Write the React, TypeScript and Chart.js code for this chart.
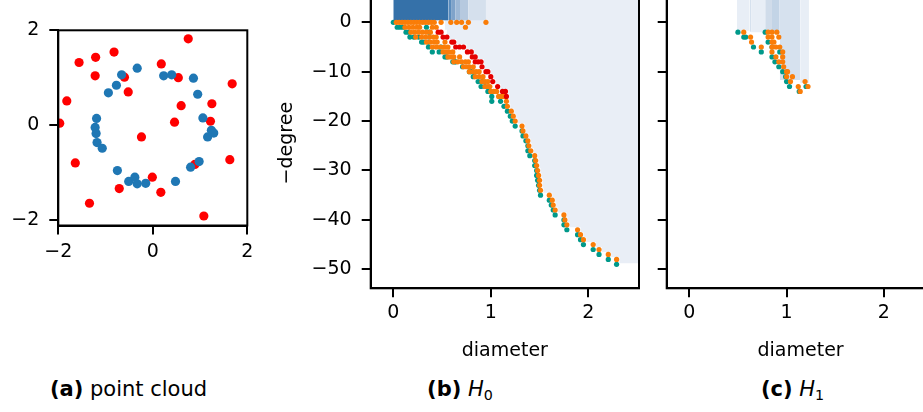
import React, { useEffect, useRef } from 'react';
import { Chart, registerables } from 'chart.js';

Chart.register(...registerables);

// ---------- (a) point cloud ----------
const cloudRed: [number, number][] = [
  [0.75, 1.82], [-0.82, 1.54], [-1.21, 1.43], [-1.56, 1.32], [0.18, 1.29], [-1.22, 1.04],
  [-0.6, 1.01], [0.54, 1.0], [1.68, 0.87], [-0.52, 0.7], [-1.82, 0.51], [0.6, 0.41],
  [1.25, 0.45], [1.22, 0.08], [-1.97, 0.04], [0.46, 0.06], [-0.24, -0.25], [1.63, -0.73],
  [-1.64, -0.8], [0.89, -0.83], [-0.01, -1.1], [-0.71, -1.34], [0.17, -1.42], [-1.34, -1.65],
  [1.08, -1.92],
];
const cloudBlue: [number, number][] = [
  [-0.33, 1.2], [-0.66, 1.06], [0.23, 1.04], [0.4, 1.06], [0.86, 0.99], [-0.77, 0.84],
  [-0.94, 0.68], [0.95, 0.65], [1.06, 0.15], [-1.19, 0.14], [-1.22, -0.05], [-1.2, -0.18],
  [1.24, -0.11], [1.29, -0.17], [1.16, -0.25], [-1.18, -0.37], [-1.07, -0.49], [-0.75, -0.96],
  [0.98, -0.77], [0.8, -0.89], [-0.51, -1.19], [-0.38, -1.1], [-0.33, -1.24], [-0.15, -1.23],
  [0.48, -1.19],
];
const cloudTicks = [-2, 0, 2];

// ---------- shared ticks ----------
const degreeTicks = [0, -10, -20, -30, -40, -50];
const diameterTicks = [0, 1, 2];

// ---------- (b) H0 ----------
const h0Teal: [number, number][] = [
  [0, 0], [0.04, -1], [0.07, -1], [0.1, -1], [0.34, -1], [0.13, -2], [0.16, -2], [0.37, -2],
  [0.17, -3], [0.21, -3], [0.26, -3], [0.29, -4], [0.31, -4], [0.36, -4], [0.36, -5], [0.49, -5],
  [0.4, -6], [0.47, -6], [0.53, -7], [0.55, -7], [0.61, -8], [0.63, -8], [0.64, -8], [0.71, -9],
  [0.78, -10], [0.8, -10], [0.82, -11], [0.87, -12], [0.91, -12], [0.9, -13], [0.94, -13],
  [0.97, -14], [1.01, -15], [1.01, -16], [1.1, -16], [1.135, -17], [1.17, -18], [1.2, -19],
  [1.22, -20], [1.25, -21], [1.32, -22], [1.33, -23], [1.36, -24], [1.38, -25], [1.38, -26],
  [1.4, -27], [1.45, -28], [1.45, -29], [1.47, -30], [1.47, -31], [1.48, -32], [1.49, -33],
  [1.5, -34], [1.51, -35], [1.6, -36], [1.62, -37], [1.64, -38], [1.66, -39], [1.75, -40],
  [1.75, -41], [1.78, -42], [1.89, -43], [1.92, -44], [1.95, -45], [2.05, -46], [2.11, -47],
  [2.205, -48], [2.29, -49],
];
const h0Orange: [number, number][] = [
  [0.03, 0], [0.06, 0], [0.09, 0], [0.12, 0], [0.15, 0], [0.18, 0], [0.21, 0], [0.24, 0],
  [0.27, 0], [0.3, 0], [0.33, 0], [0.36, 0], [0.39, 0], [0.42, 0], [0.49, 0], [0.59, 0],
  [0.65, 0], [0.7, 0], [0.77, 0], [0.95, 0],
  [0.12, -1], [0.16, -1], [0.2, -1], [0.24, -1], [0.27, -1], [0.4, -1], [0.44, -1], [0.74, -1],
  [0.18, -2], [0.22, -2], [0.26, -2], [0.3, -2], [0.34, -2], [0.38, -2],
  [0.23, -3], [0.29, -3], [0.33, -3], [0.37, -3], [0.41, -3], [0.44, -3],
  [0.34, -4], [0.38, -4], [0.42, -4], [0.45, -4], [0.53, -4],
  [0.4, -5], [0.44, -5], [0.48, -5], [0.52, -5], [0.56, -5],
  [0.51, -6], [0.54, -6], [0.57, -6], [0.61, -6],
  [0.56, -7], [0.59, -7], [0.62, -7], [0.68, -7],
  [0.62, -8], [0.66, -8], [0.7, -8], [0.74, -8], [0.77, -8],
  [0.72, -9], [0.75, -9], [0.78, -9], [0.82, -9],
  [0.78, -10], [0.82, -10], [0.85, -10], [0.88, -10],
  [0.84, -11], [0.88, -11], [0.92, -11],
  [0.91, -12], [0.94, -12], [0.97, -12],
  [0.94, -13], [0.97, -13], [0.99, -13],
  [1.0, -14], [1.03, -14], [1.06, -14],
  [1.08, -15], [1.1, -15], [1.13, -15],
  [1.16, -16], [1.17, -17], [1.21, -18], [1.23, -19], [1.25, -20], [1.32, -21], [1.33, -22],
  [1.36, -23], [1.38, -24], [1.39, -25], [1.41, -26], [1.45, -27], [1.46, -28], [1.47, -29],
  [1.48, -30], [1.49, -31], [1.5, -32], [1.5, -33], [1.51, -34], [1.6, -35], [1.63, -36],
  [1.64, -37], [1.66, -38], [1.75, -39], [1.76, -40], [1.78, -41], [1.89, -42], [1.92, -43],
  [1.95, -44], [2.05, -45], [2.11, -46], [2.205, -47], [2.29, -48],
];
const h0Red: [number, number][] = [
  [0.46, -2], [0.49, -2], [0.51, -3], [0.55, -3], [0.6, -4], [0.62, -4], [0.64, -5], [0.68, -5],
  [0.72, -5], [0.76, -6], [0.8, -6], [0.81, -7], [0.84, -7], [0.84, -8], [0.87, -8], [0.9, -8],
  [0.91, -9], [0.95, -10], [0.97, -10], [1.0, -11], [1.02, -12], [1.07, -13], [1.12, -14],
  [1.15, -14], [1.16, -15],
];
// light region: for diameter >= x the region reaches down to y
const h0RegionX = [
  0, 0.53, 0.55, 0.58, 0.65, 0.75, 0.83, 0.87, 0.93, 0.94, 1.0, 1.03, 1.05, 1.1, 1.18, 1.19,
  1.19, 1.2, 1.24, 1.26, 1.28, 1.35, 1.36, 1.39, 1.41, 1.42, 1.44, 1.48, 1.49, 1.5, 1.51, 1.52,
  1.53, 1.53, 1.54, 1.63, 1.66, 1.67, 1.69, 1.78, 1.79, 1.81, 1.92, 1.95, 1.98, 2.08, 2.14,
  2.235, 2.32, 2.52,
];
const h0RegionY = [
  0.4, -1.5, -2.5, -3.5, -4.5, -5.5, -6.5, -7.5, -8.5, -9.5, -10.5, -11.5, -12.5, -13.5, -14.5,
  -15.5, -16.5, -17.5, -18.5, -19.5, -20.5, -21.5, -22.5, -23.5, -24.5, -25.5, -26.5, -27.5,
  -28.5, -29.5, -30.5, -31.5, -32.5, -33.5, -34.5, -35.5, -36.5, -37.5, -38.5, -39.5, -40.5,
  -41.5, -42.5, -43.5, -44.5, -45.5, -46.5, -47.5, -48.8, -48.8,
];
const h0BandStart = [0, 0.564, 0.6, 0.64, 0.684, 0.77];
const h0BandEnd = [0.564, 0.6, 0.64, 0.684, 0.77, 0.95];
const h0BandBottom = [0.4, 0.4, 0.4, 0.4, 0.4, 0.4];

// ---------- (c) H1 ----------
const h1Teal: [number, number][] = [
  [0.5, -2], [0.78, -2], [0.56, -3], [0.58, -3], [0.81, -4], [0.66, -5], [0.85, -5], [0.74, -6],
  [0.93, -6], [0.85, -7], [0.88, -8], [0.92, -9], [0.96, -10], [0.99, -11], [1.0, -12],
  [1.03, -13], [1.2, -13], [1.13, -14],
];
const h1Orange: [number, number][] = [
  [0.56, -2], [0.81, -2], [0.85, -2], [0.9, -2], [0.63, -3], [0.81, -3], [0.85, -3], [0.92, -3],
  [0.64, -4], [0.85, -4], [0.87, -4], [0.74, -5], [0.85, -5], [0.89, -5], [0.93, -5], [0.85, -6],
  [0.96, -6], [0.89, -7], [0.96, -7], [0.92, -8], [0.96, -8], [0.97, -9], [1.0, -10], [1.01, -10],
  [1.0, -11], [1.06, -11], [1.04, -12], [1.19, -12], [1.12, -13], [1.22, -13], [1.14, -14],
];
const h1BandStart = [0.49, 0.62, 0.635, 0.78, 0.85, 0.93, 1.14];
const h1BandEnd = [0.62, 0.635, 0.78, 0.85, 0.93, 1.14, 1.23];
const h1BandBottom = [-1.7, -1.9, -2.0, -2.3, -2.3, -11.7, -12.3];

// ---------- styles ----------
const FONT = 'DejaVu Sans';
const TEAL = '#00998a';
const ORANGE = '#fa7d08';
const RED = '#e40000';
const LIGHT = '#e9eef6';
const h0BandColors = ['#3571a9', '#5a8cbd', '#7fa3ca', '#9db8d6', '#b6c9df', '#d5e0ed'];
const h1BandColors = ['#e8eef6', '#d6e1ee', '#e8eef6', '#d0dcea', '#c3d4e6', '#d6e1ee', '#e8eef6'];

const minus = (v: any) => String(v).replace('-', '\u2212');
const fixedTicks = (vals: number[]) => (scale: any) => {
  scale.ticks = vals.map((v) => ({ value: v }));
};
const fixWidth = (w: number) => (s: any) => {
  s.width = w;
  s.paddingTop = 0;
  s.paddingBottom = 0;
  s.paddingLeft = 0;
  s.paddingRight = 0;
};
const fixHeight = (h: number) => (s: any) => {
  s.height = h;
  s.paddingTop = 0;
  s.paddingBottom = 0;
  s.paddingLeft = 0;
  s.paddingRight = 0;
};

const framePlugin = {
  id: 'frame',
  afterDatasetsDraw(chart: any) {
    const { ctx, chartArea: a } = chart;
    ctx.save();
    ctx.strokeStyle = '#000';
    ctx.lineWidth = 2;
    ctx.strokeRect(a.left, a.top, a.right - a.left, a.bottom - a.top);
    ctx.restore();
  },
};

const pts = (data: [number, number][], color: string, r: number, order: number) => ({
  data: data.map(([x, y]) => ({ x, y })),
  showLine: false,
  pointRadius: r,
  pointHoverRadius: r,
  pointBorderWidth: 0,
  pointBackgroundColor: color,
  backgroundColor: color,
  borderColor: color,
  order,
  clip: 0,
});

const area = (xs: number[], ys: number[], color: string, order: number, stepped = false) => ({
  data: xs.map((x, i) => ({ x, y: ys[i] })),
  showLine: true,
  stepped,
  fill: 'end',
  borderWidth: 0,
  pointRadius: 0,
  pointHoverRadius: 0,
  backgroundColor: color,
  borderColor: color,
  order,
  clip: 0,
});

const bands = (s: number[], e: number[], b: number[], colors: string[], baseOrder: number) =>
  s.map((x0, i) => area([x0, e[i]], [b[i], b[i]], colors[i], baseOrder - i));

const axisCommon = (tickPad: number, showLabels = true) => ({
  type: 'linear',
  bounds: 'data',
  grid: {
    display: true,
    drawOnChartArea: false,
    drawTicks: true,
    tickLength: 9,
    tickWidth: 2,
    tickColor: '#000',
    color: '#000',
    lineWidth: 2,
  },
  border: { display: true, color: '#000', width: 2 },
  ticks: {
    display: showLabels,
    color: '#000',
    padding: tickPad,
    font: { family: FONT, size: 19 },
    maxRotation: 0,
    autoSkip: false,
    callback: minus,
  },
});

const baseOptions = (padding: any) => ({
  animation: false,
  responsive: false,
  devicePixelRatio: 1,
  events: [],
  layout: { padding },
  plugins: { legend: { display: false }, tooltip: { enabled: false } },
});

const configA = () => ({
  type: 'line',
  data: {
    datasets: [pts(cloudBlue, '#1f77b4', 4.6, 1), pts(cloudRed, '#ff0000', 4.6, 2)],
  },
  options: {
    ...baseOptions({ left: 0, top: 30.3, right: 14.7, bottom: 0 }),
    scales: {
      x: {
        ...axisCommon(6.5),
        min: -2,
        max: 2,
        afterBuildTicks: fixedTicks(cloudTicks),
        afterFit: fixHeight(36.5),
      },
      y: {
        ...axisCommon(10),
        min: -2.12,
        max: 2,
        afterBuildTicks: fixedTicks(cloudTicks),
        afterFit: fixWidth(58.3),
      },
    },
  },
  plugins: [framePlugin],
});

const diameterX = (height: number) => ({
  ...axisCommon(4.5),
  min: -0.232,
  max: 2.52,
  afterBuildTicks: fixedTicks(diameterTicks),
  afterFit: fixHeight(height),
  title: {
    display: true,
    text: 'diameter',
    color: '#000',
    font: { family: FONT, size: 19 },
    padding: { top: 0, bottom: 5.6 },
  },
});

const configB = () => ({
  type: 'line',
  data: {
    datasets: [
      pts(h0Red, RED, 2.6, 1),
      pts(h0Orange, ORANGE, 2.6, 2),
      pts(h0Teal, TEAL, 2.6, 3),
      ...bands(h0BandStart, h0BandEnd, h0BandBottom, h0BandColors, 50),
      area(h0RegionX, h0RegionY, LIGHT, 100, true),
    ],
  },
  options: {
    ...baseOptions({ left: 0, top: 10, right: 11, bottom: 0 }),
    scales: {
      x: diameterX(79.7),
      y: {
        ...axisCommon(10),
        min: -53.85,
        max: 4.92,
        afterBuildTicks: fixedTicks(degreeTicks),
        afterFit: fixWidth(100.7),
        title: {
          display: true,
          text: '\u2212degree',
          color: '#000',
          font: { family: FONT, size: 19 },
          padding: { top: 5.6, bottom: 0 },
        },
      },
    },
  },
  plugins: [framePlugin],
});

const configC = () => ({
  type: 'line',
  data: {
    datasets: [
      pts(h1Orange, ORANGE, 2.6, 2),
      pts(h1Teal, TEAL, 2.6, 3),
      ...bands(h1BandStart, h1BandEnd, h1BandBottom, h1BandColors, 50),
    ],
  },
  options: {
    ...baseOptions({ left: 0, top: 10, right: 5.5, bottom: 0 }),
    scales: {
      x: diameterX(79.7),
      y: {
        ...axisCommon(10, false),
        min: -53.85,
        max: 4.92,
        afterBuildTicks: fixedTicks(degreeTicks),
        afterFit: fixWidth(26.7),
      },
    },
  },
  plugins: [framePlugin],
});

function Panel(props: { left: number; top: number; width: number; height: number; make: () => any }) {
  const { left, top, width, height, make } = props;
  const ref = useRef<HTMLCanvasElement>(null);
  useEffect(() => {
    const chart = new Chart(ref.current as HTMLCanvasElement, make());
    return () => chart.destroy();
  }, []);
  return (
    <canvas
      ref={ref}
      width={width}
      height={height}
      style={{ position: 'absolute', left, top, width, height }}
    />
  );
}

const captionStyle = (left: number, width: number): React.CSSProperties => ({
  position: 'absolute',
  left,
  width,
  top: 377,
  textAlign: 'center',
  fontFamily: FONT,
  fontSize: 21,
  lineHeight: '24px',
  color: '#000',
  whiteSpace: 'nowrap',
});

export default function App() {
  return (
    <div
      style={{
        position: 'fixed',
        left: 0,
        top: 0,
        width: 923,
        height: 412,
        overflow: 'hidden',
        background: '#fff',
      }}
    >
      <Panel left={0} top={0} width={262} height={262} make={configA} />
      <Panel left={270} top={-12} width={380} height={380} make={configB} />
      <Panel left={640} top={-12} width={300} height={380} make={configC} />
      <div style={captionStyle(0, 257)}>
        <b>(a)</b> point cloud
      </div>
      <div style={captionStyle(360, 200)}>
        <b>(b)</b> <i>H</i>
        <span style={{ fontSize: '0.68em', verticalAlign: '-0.25em' }}>0</span>
      </div>
      <div style={captionStyle(692.5, 200)}>
        <b>(c)</b> <i>H</i>
        <span style={{ fontSize: '0.68em', verticalAlign: '-0.25em' }}>1</span>
      </div>
    </div>
  );
}
